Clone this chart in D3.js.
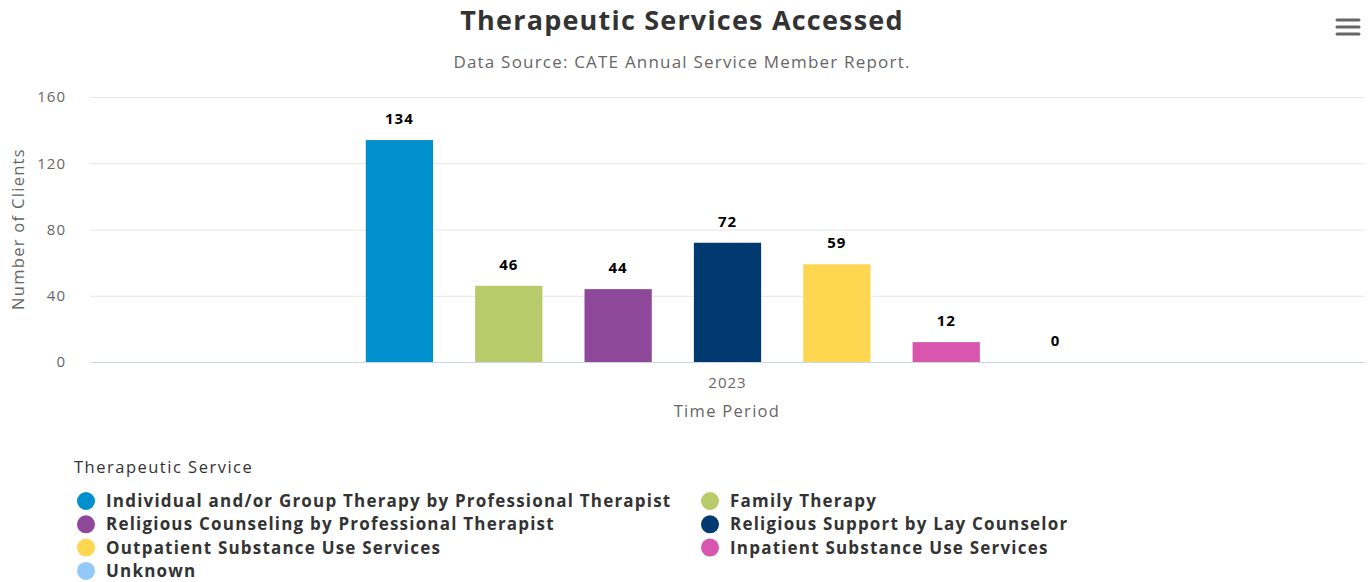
<!DOCTYPE html>
<html><head><meta charset="utf-8">
<script src="https://cdn.jsdelivr.net/npm/d3@7/dist/d3.min.js"></script>
<style>body{margin:0;background:#fff;} text{font-family:"Open Sans",sans-serif;}</style>
</head><body><svg id="c" width="1368" height="582"></svg>
<script>
const categories = ["2023"];
const seriesNames = [
  "Individual and/or Group Therapy by Professional Therapist",
  "Family Therapy",
  "Religious Counseling by Professional Therapist",
  "Religious Support by Lay Counselor",
  "Outpatient Substance Use Services",
  "Inpatient Substance Use Services",
  "Unknown"
];
const seriesValues = [134, 46, 44, 72, 59, 12, 0];
const seriesColors = ["#0090cd", "#b8ca6a", "#8e4899", "#003a70", "#fed64f", "#d856ad", "#91c9fb"];
const yTicks = [0, 40, 80, 120, 160];

const svg = d3.select("#c");
const plotLeft = 90, plotRight = 1365, plotTop = 97, plotBottom = 362;

const x0 = d3.scaleBand().domain(categories).range([plotLeft, plotRight]).paddingInner(0).paddingOuter(0);
const gp = 0.2 * x0.bandwidth();
const x1 = d3.scaleBand().domain(seriesNames)
  .range([x0(categories[0]) + gp, x0(categories[0]) + x0.bandwidth() - gp])
  .paddingInner(0.385).paddingOuter(0.19);
const y = d3.scaleLinear().domain([0, 160]).range([plotBottom, plotTop]);

// gridlines
svg.append("g").selectAll("line").data(yTicks.filter(d => d > 0)).join("line")
  .attr("x1", plotLeft).attr("x2", plotRight).attr("y1", d => y(d) + 0.5).attr("y2", d => y(d) + 0.5)
  .attr("stroke", "#e6e6e6").attr("stroke-width", 1);

// y axis labels
const ya = svg.append("g").attr("transform", `translate(${plotLeft},0)`)
  .call(d3.axisLeft(y).tickValues(yTicks).tickSize(0).tickPadding(24));
ya.select(".domain").remove();
ya.selectAll("text").attr("font-family", "Open Sans").attr("font-size", 15).attr("letter-spacing", 1)
  .attr("fill", "#666").attr("dy", "0.32em");

// x axis
const xa = svg.append("g").attr("transform", `translate(0,${plotBottom})`)
  .call(d3.axisBottom(x0).tickSize(0).tickPadding(15));
xa.select(".domain").attr("stroke", "#ccd6eb");
xa.selectAll("text").attr("font-family", "Open Sans").attr("font-size", 15).attr("letter-spacing", 1).attr("fill", "#666");

// bars
svg.append("g").selectAll("rect").data(seriesNames).join("rect")
  .attr("x", d => x1(d)).attr("width", x1.bandwidth())
  .attr("y", (d, i) => y(seriesValues[i])).attr("height", (d, i) => y(0) - y(seriesValues[i]))
  .attr("fill", (d, i) => seriesColors[i]);

// data labels
svg.append("g").selectAll("text").data(seriesNames).join("text")
  .attr("x", d => x1(d) + x1.bandwidth() / 2)
  .attr("y", (d, i) => y(seriesValues[i]) - 16)
  .attr("text-anchor", "middle").attr("font-size", 15).attr("letter-spacing", 1)
  .attr("font-weight", "bold").attr("fill", "#000")
  .text((d, i) => seriesValues[i]);

// titles
svg.append("text").attr("x", 682).attr("y", 30).attr("text-anchor", "middle")
  .attr("font-size", 27).attr("letter-spacing", 1.2).attr("font-weight", "bold").attr("fill", "#333")
  .text("Therapeutic Services Accessed");
svg.append("text").attr("x", 682).attr("y", 68).attr("text-anchor", "middle")
  .attr("font-size", 17).attr("letter-spacing", 1.2).attr("fill", "#666")
  .text("Data Source: CATE Annual Service Member Report.");
svg.append("text").attr("transform", "translate(24,229) rotate(-90)").attr("text-anchor", "middle")
  .attr("font-size", 16.5).attr("letter-spacing", 1.3).attr("fill", "#666").text("Number of Clients");
svg.append("text").attr("x", 727).attr("y", 417).attr("text-anchor", "middle")
  .attr("font-size", 16.5).attr("letter-spacing", 1.3).attr("fill", "#666").text("Time Period");

// menu icon
svg.append("g").selectAll("line").data([0, 1, 2]).join("line")
  .attr("x1", 1337).attr("x2", 1359).attr("y1", d => 20 + d * 7).attr("y2", d => 20 + d * 7)
  .attr("stroke", "#666").attr("stroke-width", 3).attr("stroke-linecap", "round");

// legend
svg.append("text").attr("x", 74).attr("y", 473).attr("font-size", 16.5).attr("letter-spacing", 1.5)
  .attr("fill", "#333").text("Therapeutic Service");
const lg = svg.append("g").selectAll("g").data(seriesNames).join("g")
  .attr("transform", (d, i) => `translate(${i % 2 === 0 ? 86 : 710},${501 + Math.floor(i / 2) * 23.3})`);
lg.append("circle").attr("r", 9).attr("fill", (d, i) => seriesColors[i]);
lg.append("text").attr("x", 20).attr("dy", "0.35em").attr("font-size", 17).attr("letter-spacing", 1.2)
  .attr("font-weight", "bold").attr("fill", "#333").text(d => d);
</script></body></html>
